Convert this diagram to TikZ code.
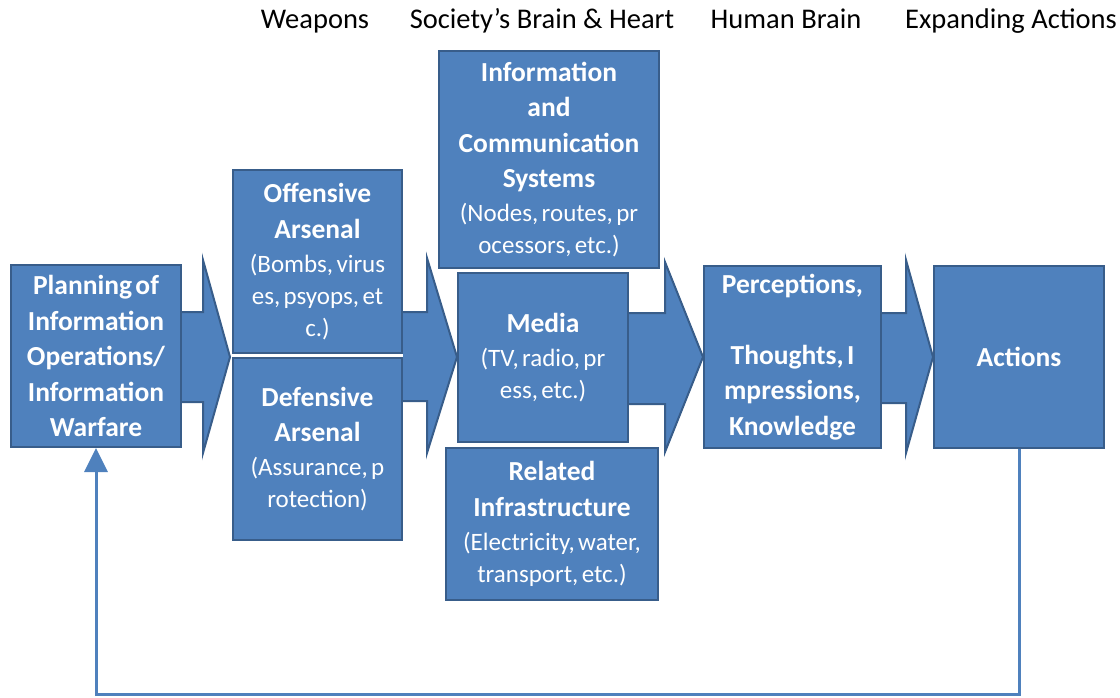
\documentclass[tikz,border=0pt]{standalone}
\usepackage{fontspec}
\setmainfont{Carlito}
\usetikzlibrary{arrows.meta}
\definecolor{boxfill}{HTML}{4F81BD}
\definecolor{boxline}{HTML}{385D8A}
\newcommand\titlefont{\fontsize{27.5}{35.5}\selectfont\bfseries}
\newcommand\subfont{\fontsize{25}{32}\selectfont}
\begin{document}
\begin{tikzpicture}[x=1pt,y=-1pt,
  box/.style={rectangle,draw=boxline,fill=boxfill,line width=2pt,inner sep=0pt,text=white,align=center},
  arrowfill/.style={fill=boxfill},
  arrowline/.style={draw=boxline,line width=2pt,line join=miter},
  heading/.style={anchor=base,font=\fontsize{28.5}{34}\selectfont,text=black,inner sep=0pt},
  feedback/.style={draw=boxfill,line width=3pt,line join=miter,-{Triangle[width=23pt,length=24pt]}}]

\useasboundingbox (0,0) rectangle (1120,698);

% headings
\node[heading] (h1) at (315,29) {Weapons};
\node[heading] (h2) at (542,29) {Society’s Brain \& Heart};
\node[heading] (h3) at (786,29) {Human Brain};
\node[heading] (h4) at (1011,29) {Expanding Actions};

% block arrows (behind boxes)
\path[arrowfill] (150,312) -- (203,312) -- (203,260) -- (230,357) -- (203,453) -- (203,402) -- (150,402) -- cycle;
\path[arrowline] (150,312) -- (203,312) -- (203,260) -- (230,357) -- (203,453) -- (203,402) -- (150,402);
\path[arrowfill] (403,312) -- (427,312) -- (427,258) -- (457,357) -- (427,453) -- (427,401) -- (403,401) -- cycle;
\path[arrowline] (403,312) -- (427,312) -- (427,258) -- (457,357) -- (427,453) -- (427,401) -- (403,401);
\path[arrowfill] (600,313) -- (665,313) -- (665,262) -- (703,357) -- (665,452) -- (665,404) -- (600,404) -- cycle;
\path[arrowline] (600,313) -- (665,313) -- (665,262) -- (703,357) -- (665,452) -- (665,404) -- (600,404);
\path[arrowfill] (860,313) -- (906,313) -- (906,260) -- (933,357) -- (906,453) -- (906,403) -- (860,403) -- cycle;
\path[arrowline] (860,313) -- (906,313) -- (906,260) -- (933,357) -- (906,453) -- (906,403) -- (860,403);

% boxes
\node[box,minimum width=170pt,minimum height=182pt,text width=170pt] (plan) at (96,356)
  {{\titlefont Planning of\\Information\\Operations/\\Information\\Warfare\par}};
\node[box,minimum width=169pt,minimum height=183pt,text width=169pt] (off) at (317.5,261.5)
  {{\titlefont Offensive\\Arsenal\par}\vspace{2pt}{\subfont (Bombs, virus\\es, psyops, et\\c.)\par}};
\node[box,minimum width=169pt,minimum height=182pt,text width=169pt] (def) at (317.5,449)
  {{\titlefont Defensive\\Arsenal\par}\vspace{2pt}{\subfont (Assurance, p\\rotection)\par}};
\node[box,minimum width=220pt,minimum height=217pt,text width=220pt] (ics) at (549,159.5)
  {{\titlefont Information\\and\\Communication\\Systems\par}\vspace{2pt}{\subfont (Nodes, routes, pr\\ocessors, etc.)\par}};
\node[box,minimum width=170pt,minimum height=169pt,text width=170pt] (med) at (543,357.5)
  {{\titlefont Media\par}\vspace{2pt}{\subfont (TV, radio, pr\\ess, etc.)\par}};
\node[box,minimum width=212pt,minimum height=152pt,text width=212pt] (rel) at (552,524)
  {{\titlefont Related\\Infrastructure\par}\vspace{2pt}{\subfont (Electricity, water,\\transport, etc.)\par}};
\node[box,minimum width=177pt,minimum height=182pt,text width=177pt] (per) at (792.5,357)
  {{\titlefont Perceptions,\\[35.5pt]Thoughts, I\\mpressions,\\Knowledge\par}};
\node[box,minimum width=170pt,minimum height=182pt,text width=170pt] (act) at (1019,357)
  {{\titlefont Actions\par}};

% feedback loop
\draw[feedback] (act.south) -- ++(0,245) -| (plan.south);
\end{tikzpicture}
\end{document}
